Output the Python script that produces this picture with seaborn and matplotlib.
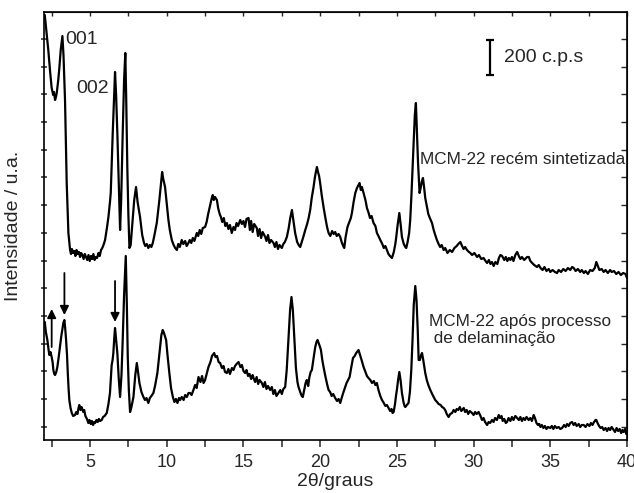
import numpy as np
import pandas as pd
import seaborn as sns
import matplotlib.pyplot as plt
from matplotlib.ticker import MultipleLocator, FixedLocator

# 2theta (graus), intensidade (u.a.)
upper_pts = [
    (2.05, 425), (2.15, 410), (2.28, 390), (2.4, 368), (2.5, 352), (2.6, 345), (2.65, 348),
    (2.72, 340), (2.78, 343), (2.83, 347), (2.93, 360), (3.0, 372), (3.09, 390), (3.15, 398),
    (3.2, 404), (3.27, 385), (3.37, 340), (3.48, 257), (3.59, 207), (3.7, 190), (3.76, 186),
    (3.82, 191), (3.9, 187), (3.97, 189), (4.05, 184), (4.12, 190), (4.2, 186), (4.28, 188),
    (4.35, 183), (4.42, 187), (4.5, 185), (4.58, 181), (4.66, 186), (4.74, 183), (4.82, 180),
    (4.9, 185), (4.98, 179), (5.06, 184), (5.14, 181), (5.22, 186), (5.3, 180), (5.38, 183),
    (5.46, 182), (5.55, 187), (5.63, 184), (5.72, 190), (5.8, 192), (5.9, 196), (5.98, 200),
    (6.1, 212), (6.2, 223), (6.3, 238), (6.35, 247), (6.42, 280), (6.48, 307), (6.56, 340),
    (6.63, 368), (6.7, 345), (6.78, 307), (6.87, 260), (6.96, 210), (7.03, 240), (7.13, 307),
    (7.22, 360), (7.3, 387), (7.36, 340), (7.43, 273), (7.5, 225), (7.57, 192), (7.65, 195),
    (7.75, 215), (7.88, 240), (8.0, 253), (8.1, 238), (8.26, 223), (8.4, 205), (8.52, 197),
    (8.6, 194), (8.7, 196), (8.8, 192), (8.9, 195), (9.0, 193), (9.09, 197), (9.2, 205),
    (9.35, 217), (9.45, 230), (9.52, 240), (9.6, 252), (9.7, 268), (9.76, 262), (9.82, 258),
    (9.89, 253), (10.0, 236), (10.11, 220), (10.2, 210), (10.33, 200), (10.45, 195),
    (10.55, 192), (10.66, 190), (10.75, 196), (10.85, 193), (10.98, 200), (11.08, 196),
    (11.2, 199), (11.3, 194), (11.41, 197), (11.5, 200), (11.6, 197), (11.7, 202), (11.8, 199),
    (11.96, 207), (12.05, 204), (12.15, 210), (12.25, 206), (12.35, 212), (12.5, 213),
    (12.6, 218), (12.7, 226), (12.83, 235), (12.92, 241), (13.0, 245), (13.07, 240),
    (13.15, 243), (13.27, 240), (13.35, 232), (13.45, 226), (13.53, 223), (13.62, 218),
    (13.72, 222), (13.82, 214), (13.92, 217), (14.02, 211), (14.12, 215), (14.24, 207),
    (14.35, 213), (14.45, 210), (14.55, 217), (14.65, 214), (14.79, 220), (14.9, 216),
    (15.0, 219), (15.1, 213), (15.2, 221), (15.33, 222), (15.42, 210), (15.5, 219),
    (15.6, 208), (15.7, 216), (15.87, 212), (15.95, 204), (16.05, 211), (16.15, 202),
    (16.25, 208), (16.42, 203), (16.5, 199), (16.6, 205), (16.7, 197), (16.8, 200),
    (16.96, 197), (17.05, 193), (17.15, 198), (17.25, 191), (17.35, 195), (17.5, 192),
    (17.6, 196), (17.7, 198), (17.83, 203), (17.95, 212), (18.05, 222), (18.16, 230),
    (18.25, 220), (18.37, 207), (18.5, 198), (18.6, 195), (18.7, 193), (18.8, 198),
    (18.9, 203), (19.03, 210), (19.15, 216), (19.25, 222), (19.35, 230), (19.45, 242),
    (19.57, 253), (19.65, 262), (19.72, 268), (19.79, 273), (19.86, 268), (19.93, 264),
    (20.0, 257), (20.1, 245), (20.22, 233), (20.33, 223), (20.45, 213), (20.55, 207),
    (20.66, 204), (20.78, 209), (20.88, 206), (20.98, 208), (21.08, 204), (21.2, 206),
    (21.31, 203), (21.4, 198), (21.5, 194), (21.57, 192), (21.66, 203), (21.78, 213),
    (21.9, 218), (22.0, 222), (22.07, 227), (22.18, 238), (22.29, 247), (22.4, 252),
    (22.5, 255), (22.57, 257), (22.65, 250), (22.72, 253), (22.83, 247), (22.95, 240),
    (23.05, 232), (23.16, 227), (23.25, 222), (23.35, 224), (23.48, 217), (23.6, 214),
    (23.7, 207), (23.8, 204), (23.92, 200), (24.05, 196), (24.15, 192), (24.25, 194),
    (24.35, 190), (24.45, 186), (24.55, 184), (24.68, 182), (24.8, 188), (24.9, 196),
    (24.96, 203), (25.05, 215), (25.16, 227), (25.25, 215), (25.33, 203), (25.45, 196),
    (25.55, 193), (25.61, 192), (25.7, 198), (25.8, 207), (25.87, 220), (25.95, 245),
    (26.02, 270), (26.09, 293), (26.17, 325), (26.24, 337), (26.3, 310), (26.38, 277),
    (26.48, 247), (26.55, 252), (26.62, 258), (26.7, 262), (26.78, 252), (26.85, 242),
    (26.96, 233), (27.05, 226), (27.15, 222), (27.29, 217), (27.4, 210), (27.5, 205),
    (27.61, 200), (27.72, 196), (27.82, 193), (27.92, 195), (28.05, 190), (28.15, 192),
    (28.3, 187), (28.45, 190), (28.6, 188), (28.75, 192), (28.9, 194), (29.0, 196),
    (29.14, 198), (29.25, 194), (29.35, 191), (29.45, 193), (29.57, 190), (29.7, 188),
    (29.79, 187), (29.9, 185), (30.05, 187), (30.23, 183), (30.35, 185), (30.5, 181),
    (30.65, 182), (30.78, 179), (30.88, 177), (31.0, 180), (31.1, 176), (31.2, 178),
    (31.31, 174), (31.42, 178), (31.55, 176), (31.65, 182), (31.75, 185), (31.86, 184),
    (32.0, 180), (32.1, 183), (32.2, 179), (32.3, 182), (32.4, 180), (32.5, 183),
    (32.6, 179), (32.72, 185), (32.84, 188), (32.95, 184), (33.05, 181), (33.15, 183),
    (33.3, 180), (33.49, 183), (33.6, 183), (33.7, 179), (33.82, 177), (33.95, 175),
    (34.05, 174), (34.14, 173), (34.25, 175), (34.36, 172), (34.5, 170), (34.62, 173),
    (34.75, 169), (34.9, 171), (35.0, 168), (35.15, 170), (35.3, 168), (35.44, 167),
    (35.55, 170), (35.7, 168), (35.85, 171), (36.0, 169), (36.15, 172), (36.3, 170),
    (36.42, 173), (36.53, 172), (36.65, 169), (36.8, 171), (36.95, 168), (37.05, 170),
    (37.19, 167), (37.3, 169), (37.45, 166), (37.6, 170), (37.75, 169), (37.9, 172),
    (38.0, 178), (38.1, 174), (38.2, 170), (38.35, 171), (38.48, 168), (38.6, 170),
    (38.75, 167), (38.9, 170), (39.0, 168), (39.15, 169), (39.3, 166), (39.45, 168),
    (39.6, 165), (39.75, 167), (39.9, 166), (40.0, 162),
]

lower_pts = [
    (2.05, 118), (2.12, 108), (2.22, 100), (2.3, 90), (2.35, 85), (2.42, 88), (2.5, 83),
    (2.56, 78), (2.61, 70), (2.67, 66), (2.72, 65), (2.8, 68), (2.87, 73), (2.95, 82),
    (3.04, 93), (3.12, 103), (3.19, 110), (3.26, 117), (3.33, 120), (3.38, 112), (3.44, 100),
    (3.5, 85), (3.55, 67), (3.6, 52), (3.65, 40), (3.73, 32), (3.81, 27), (3.9, 24),
    (4.02, 25), (4.1, 28), (4.18, 26), (4.25, 32), (4.3, 35), (4.38, 30), (4.45, 33),
    (4.56, 28), (4.62, 30), (4.7, 24), (4.8, 21), (4.89, 17), (4.96, 20), (5.05, 16),
    (5.12, 19), (5.2, 15), (5.28, 18), (5.33, 17), (5.42, 20), (5.5, 18), (5.58, 21),
    (5.66, 19), (5.76, 20), (5.85, 23), (5.95, 24), (6.09, 27), (6.2, 36), (6.3, 47),
    (6.36, 62), (6.41, 75), (6.47, 80), (6.52, 87), (6.58, 102), (6.63, 112), (6.7, 100),
    (6.78, 87), (6.87, 62), (6.96, 43), (7.05, 65), (7.13, 100), (7.22, 145), (7.33, 184),
    (7.4, 135), (7.46, 83), (7.53, 50), (7.61, 28), (7.7, 33), (7.83, 43), (7.95, 65),
    (8.05, 77), (8.13, 68), (8.22, 57), (8.35, 48), (8.48, 43), (8.58, 40), (8.68, 42),
    (8.8, 37), (8.9, 42), (9.0, 44), (9.13, 47), (9.25, 55), (9.39, 67), (9.48, 80),
    (9.57, 93), (9.65, 105), (9.74, 110), (9.82, 107), (9.96, 100), (10.05, 85),
    (10.17, 67), (10.28, 52), (10.4, 43), (10.5, 38), (10.6, 41), (10.7, 37), (10.8, 42),
    (10.87, 40), (10.98, 43), (11.1, 40), (11.2, 45), (11.31, 43), (11.42, 47), (11.52, 47),
    (11.62, 45), (11.74, 50), (11.85, 55), (11.95, 52), (12.07, 63), (12.2, 58), (12.3, 64),
    (12.4, 57), (12.5, 60), (12.6, 66), (12.72, 73), (12.85, 78), (12.95, 84), (13.09, 87),
    (13.18, 83), (13.28, 84), (13.38, 78), (13.48, 77), (13.6, 72), (13.7, 74), (13.8, 68),
    (13.92, 67), (14.02, 71), (14.12, 66), (14.25, 72), (14.35, 70), (14.45, 74),
    (14.55, 76), (14.68, 78), (14.8, 73), (14.9, 75), (15.0, 69), (15.11, 67), (15.2, 70),
    (15.3, 64), (15.4, 66), (15.5, 61), (15.6, 65), (15.66, 62), (15.76, 58), (15.86, 63),
    (15.96, 56), (16.05, 60), (16.2, 57), (16.3, 53), (16.4, 58), (16.5, 51), (16.6, 54),
    (16.74, 50), (16.85, 53), (16.95, 46), (17.05, 50), (17.15, 44), (17.28, 47),
    (17.4, 50), (17.5, 46), (17.6, 51), (17.72, 53), (17.82, 70), (17.94, 103),
    (18.04, 130), (18.13, 143), (18.22, 130), (18.31, 103), (18.42, 72), (18.52, 58),
    (18.59, 53), (18.7, 48), (18.8, 44), (18.87, 43), (18.95, 49), (19.05, 57), (19.13, 60),
    (19.22, 54), (19.3, 63), (19.38, 68), (19.46, 70), (19.55, 80), (19.62, 87),
    (19.68, 93), (19.76, 98), (19.83, 100), (19.9, 97), (19.97, 94), (20.05, 90),
    (20.14, 80), (20.22, 73), (20.35, 63), (20.45, 56), (20.55, 50), (20.65, 48),
    (20.75, 44), (20.85, 46), (20.98, 42), (21.1, 39), (21.2, 41), (21.31, 37), (21.4, 42),
    (21.5, 47), (21.63, 53), (21.72, 57), (21.82, 60), (21.92, 63), (22.02, 72),
    (22.14, 82), (22.25, 84), (22.35, 87), (22.5, 90), (22.6, 85), (22.7, 80), (22.83, 73),
    (22.95, 68), (23.05, 64), (23.15, 62), (23.27, 60), (23.38, 57), (23.5, 59), (23.6, 55),
    (23.7, 57), (23.8, 50), (23.92, 44), (24.03, 40), (24.15, 37), (24.25, 34), (24.35, 35),
    (24.46, 32), (24.56, 29), (24.65, 31), (24.72, 27), (24.79, 28), (24.88, 36),
    (24.95, 45), (25.0, 50), (25.08, 60), (25.16, 68), (25.24, 60), (25.33, 47),
    (25.43, 38), (25.5, 34), (25.55, 33), (25.65, 35), (25.76, 37), (25.85, 48),
    (25.94, 70), (26.02, 100), (26.1, 135), (26.2, 154), (26.28, 140), (26.36, 110),
    (26.42, 80), (26.5, 80), (26.58, 85), (26.64, 87), (26.72, 80), (26.85, 67),
    (26.95, 60), (27.05, 55), (27.18, 50), (27.3, 46), (27.4, 43), (27.5, 40), (27.62, 38),
    (27.72, 36), (27.85, 35), (27.95, 33), (28.05, 32), (28.15, 30), (28.25, 26),
    (28.37, 23), (28.48, 26), (28.6, 27), (28.7, 30), (28.81, 28), (28.9, 31), (29.0, 30),
    (29.1, 33), (29.2, 29), (29.36, 32), (29.45, 28), (29.55, 30), (29.65, 26), (29.75, 29),
    (29.9, 27), (30.0, 25), (30.1, 28), (30.2, 26), (30.33, 28), (30.45, 24), (30.55, 20),
    (30.65, 22), (30.75, 18), (30.88, 15), (30.98, 18), (31.08, 17), (31.2, 20), (31.3, 18),
    (31.4, 22), (31.52, 20), (31.64, 25), (31.72, 22), (31.82, 24), (31.9, 19), (32.0, 21),
    (32.1, 17), (32.18, 18), (32.28, 22), (32.4, 19), (32.5, 23), (32.6, 20), (32.72, 24),
    (32.84, 22), (32.95, 20), (33.05, 23), (33.15, 19), (33.25, 22), (33.35, 20),
    (33.45, 23), (33.59, 20), (33.7, 22), (33.8, 19), (33.92, 25), (34.0, 22), (34.1, 17),
    (34.2, 15), (34.28, 16), (34.36, 13), (34.45, 15), (34.55, 12), (34.65, 14), (34.75, 11),
    (34.85, 13), (35.0, 12), (35.1, 14), (35.2, 11), (35.3, 14), (35.42, 12), (35.55, 13),
    (35.65, 11), (35.77, 12), (35.9, 15), (36.0, 13), (36.1, 16), (36.2, 14), (36.3, 17),
    (36.42, 18), (36.52, 15), (36.62, 17), (36.72, 14), (36.85, 16), (36.95, 13),
    (37.05, 15), (37.18, 15), (37.3, 13), (37.42, 16), (37.55, 14), (37.65, 17), (37.75, 15),
    (37.85, 18), (37.95, 20), (38.0, 20), (38.08, 17), (38.18, 14), (38.28, 12), (38.38, 13),
    (38.48, 10), (38.6, 12), (38.7, 9), (38.8, 12), (38.9, 10), (39.0, 13), (39.13, 10),
    (39.22, 8), (39.32, 12), (39.42, 9), (39.52, 11), (39.62, 7), (39.7, 10), (39.78, 8),
    (39.88, 11), (39.95, 6), (40.0, 9),
]

# arrows on the delaminated pattern: (2theta, tail, head)
arrows = [(2.5, 93, 131), (3.33, 167, 125), (6.63, 159, 118)]

peak_labels = [("001", 3.37, 401), ("002", 4.13, 352)]
sample_labels = ["MCM-22 recém sintetizada", "MCM-22 após processo\n de delaminação"]
x_ticks = [5, 10, 15, 20, 25, 30, 35, 40]

up = pd.DataFrame(upper_pts, columns=["2theta", "I"])
low = pd.DataFrame(lower_pts, columns=["2theta", "I"])

sns.set_style("ticks")
plt.rcParams["font.family"] = ["Liberation Sans", "DejaVu Sans"]

fig = plt.figure(figsize=(6.34, 4.93), dpi=100)
ax = fig.add_axes([44 / 634, 53 / 493, 583 / 634, 428 / 493])

sns.lineplot(data=up, x="2theta", y="I", ax=ax, color="black", lw=1.6,
             estimator=None, sort=False)
sns.lineplot(data=low, x="2theta", y="I", ax=ax, color="black", lw=1.6,
             estimator=None, sort=False)

ax.set_xlim(2, 40)
ax.set_ylim(0, 428)

yt = np.arange(13.3, 430, 27.7)
ax.xaxis.set_major_locator(FixedLocator(x_ticks))
ax.xaxis.set_minor_locator(MultipleLocator(2.5))
ax.yaxis.set_major_locator(FixedLocator(yt))
ax.set_yticklabels([])

ax.tick_params(axis="x", which="both", direction="out", length=5, width=1.1,
               labelsize=13, pad=5, top=False)
ax.tick_params(axis="y", which="both", direction="inout", length=5, width=1.1,
               right=False)
for s in ax.spines.values():
    s.set_linewidth(1.2)
    s.set_color("black")

# inward tick marks along top and right
ax2 = ax.secondary_xaxis("top")
ax2.xaxis.set_major_locator(MultipleLocator(2.5))
ax2.tick_params(direction="in", length=3, width=1.0)
ax2.set_xticklabels([])
ax3 = ax.secondary_yaxis("right")
ax3.yaxis.set_major_locator(FixedLocator(yt))
ax3.tick_params(direction="in", length=4, width=1.0)
ax3.set_yticklabels([])

ax.set_xlabel("2θ/graus", fontsize=14)
ax.xaxis.set_label_coords(0.5, -0.078)
ax.set_ylabel("Intensidade / u.a.", fontsize=14)
ax.yaxis.set_label_coords(-0.038, 0.5)

for txt, x, y in peak_labels:
    ax.text(x, y, txt, fontsize=14, va="center", ha="left")

for x, y0, y1 in arrows:
    ax.annotate("", xy=(x, y1), xytext=(x, y0),
                arrowprops=dict(arrowstyle="-|>", color="black", lw=1.3,
                                mutation_scale=13, shrinkA=0, shrinkB=0))

# 200 c.p.s scale bar
ax.errorbar(31.1, 383, yerr=17.5, color="black", lw=1.6, capsize=3, capthick=1.6)
ax.text(31.96, 383, "200 c.p.s", fontsize=14, va="center", ha="left")

ax.text(26.53, 281, sample_labels[0], fontsize=12.3, va="center", ha="left")
ax.text(27.07, 110, sample_labels[1], fontsize=12.3, va="center", ha="left",
        linespacing=1.15)

fig.savefig("out.png", dpi=100)
